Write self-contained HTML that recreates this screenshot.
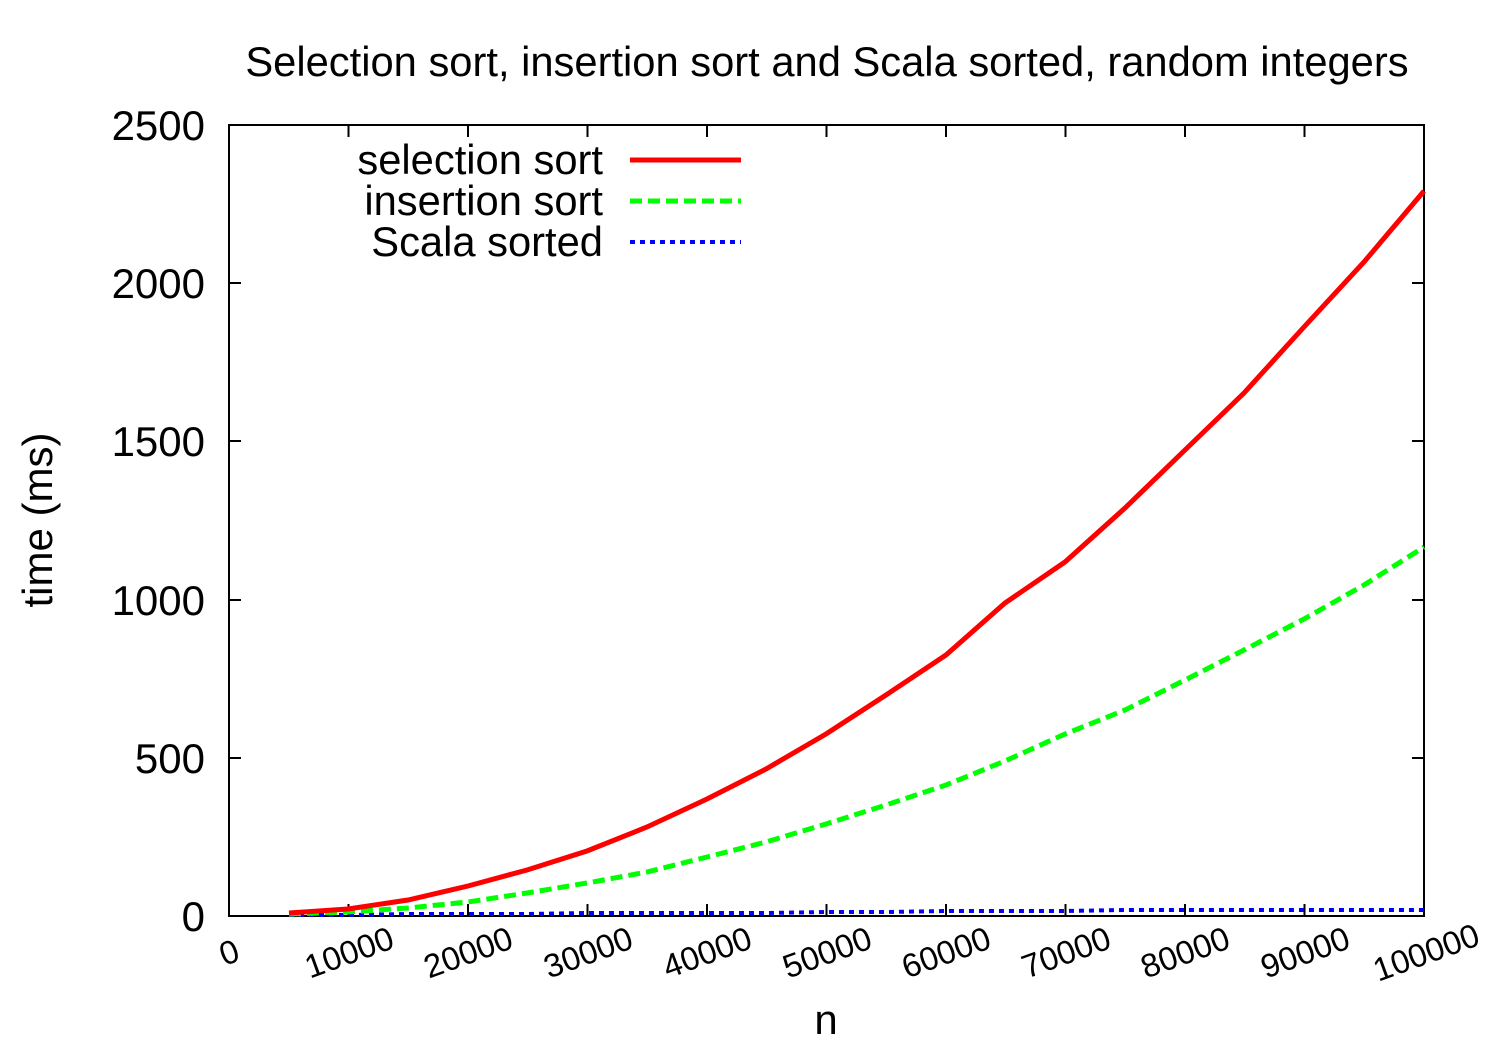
<!DOCTYPE html>
<html><head><meta charset="utf-8"><style>body{margin:0;background:#fff}svg{display:block}</style></head><body>
<svg width="1500" height="1050" xmlns="http://www.w3.org/2000/svg" font-family="Liberation Sans, sans-serif">
<rect width="1500" height="1050" fill="#fff"/>
<text x="827" y="76" font-size="41.7" text-anchor="middle">Selection sort, insertion sort and Scala sorted, random integers</text>
<g stroke="#000" stroke-width="2" fill="none">
<rect x="229" y="125" width="1195" height="791"/>
<path d="M229 916h12M1424 916h-12M229 758h12M1424 758h-12M229 600h12M1424 600h-12M229 441h12M1424 441h-12M229 283h12M1424 283h-12
M348.5 916v-12M348.5 125v12M468 916v-12M468 125v12M587.5 916v-12M587.5 125v12M707 916v-12M707 125v12M826.5 916v-12M826.5 125v12M946 916v-12M946 125v12M1065.5 916v-12M1065.5 125v12M1185 916v-12M1185 125v12M1304.5 916v-12M1304.5 125v12"/>
</g>
<g font-size="42" text-anchor="end">
<text x="205" y="931">0</text><text x="205" y="773">500</text><text x="205" y="615">1000</text><text x="205" y="456">1500</text><text x="205" y="298">2000</text><text x="205" y="140">2500</text>
</g>
<g font-size="33" text-anchor="middle">
<text transform="translate(233,963) rotate(-20)">0</text>
<text transform="translate(353,963) rotate(-20)">10000</text>
<text transform="translate(472,963) rotate(-20)">20000</text>
<text transform="translate(592,963) rotate(-20)">30000</text>
<text transform="translate(711,963) rotate(-20)">40000</text>
<text transform="translate(831,963) rotate(-20)">50000</text>
<text transform="translate(950,963) rotate(-20)">60000</text>
<text transform="translate(1070,963) rotate(-20)">70000</text>
<text transform="translate(1189,963) rotate(-20)">80000</text>
<text transform="translate(1309,963) rotate(-20)">90000</text>
<text transform="translate(1430,963) rotate(-20)">100000</text>
</g>
<text x="826" y="1034" font-size="42" text-anchor="middle">n</text>
<text transform="translate(52,520) rotate(-90)" font-size="42" text-anchor="middle">time (ms)</text>
<polyline fill="none" stroke="#00f" stroke-width="4" stroke-dasharray="5,5" points="289,915 348,915 408,914 468,914 527,914 587,913 647,913 707,913 766,913 826,912 886,912 946,911 1005,911 1065,911 1125,910 1185,910 1244,910 1304,910 1364,910 1424,910"/>
<polyline fill="none" stroke="#0f0" stroke-width="5" stroke-dasharray="12,6" points="289,914 348,912 408,908 468,902 527,893 587,883 647,872 707,857 766,842 826,824 886,805 946,785 1005,761 1065,734 1125,710 1185,680 1244,650 1304,619 1364,585 1424,547"/>
<polyline fill="none" stroke="#f00" stroke-width="5" points="289,913 348,909 408,900 468,886 527,870 587,851 647,827 707,799 766,769 826,734 886,695 946,655 1005,603 1065,562 1125,508 1185,450 1244,393 1304,327 1364,262 1424,191"/>
<g font-size="41.7" text-anchor="end">
<text x="603" y="174">selection sort</text>
<text x="603" y="215">insertion sort</text>
<text x="603" y="256">Scala sorted</text>
</g>
<line x1="630" y1="160" x2="741" y2="160" stroke="#f00" stroke-width="5"/>
<line x1="630" y1="201" x2="741" y2="201" stroke="#0f0" stroke-width="5" stroke-dasharray="12,6"/>
<line x1="630" y1="242" x2="741" y2="242" stroke="#00f" stroke-width="4" stroke-dasharray="5,5"/>
</svg>
</body></html>
